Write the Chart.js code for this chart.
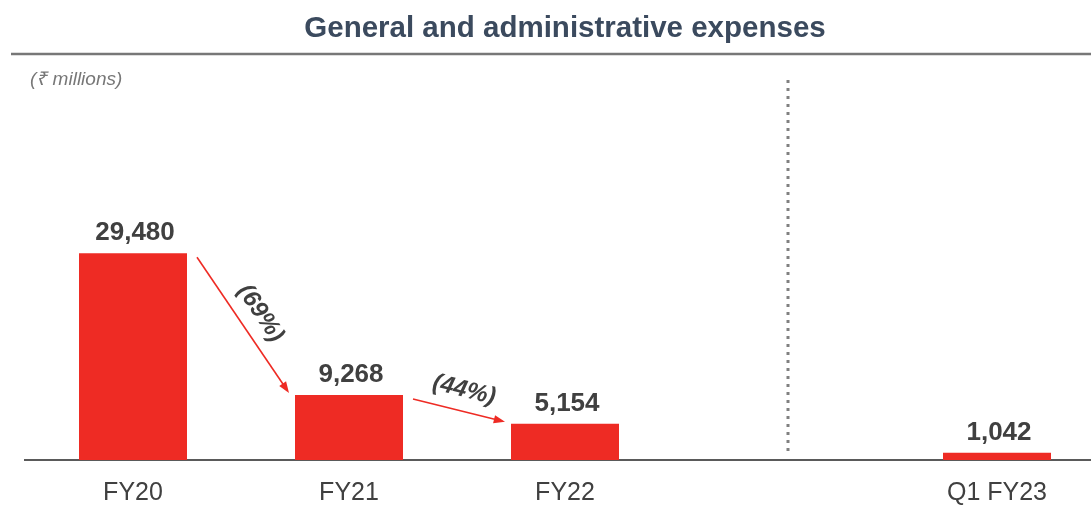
<!DOCTYPE html>
<html>
<head>
<meta charset="utf-8">
<script src="https://cdn.jsdelivr.net/npm/chart.js@4.4.0/dist/chart.umd.min.js"></script>
<style>
  html, body { margin: 0; padding: 0; background: #fff; overflow: hidden; }
  #wrap { position: relative; width: 1130px; height: 505px; }
</style>
</head>
<body>
<div id="wrap"><canvas id="gaChart" width="1130" height="505"></canvas></div>
<script>
// data
const categories = ['FY20', 'FY21', 'FY22', '', 'Q1 FY23'];
const expenses = [29480, 9268, 5154, null, 1042];
const changeLabels = ['(69%)', '(44%)'];
const changePairs = [[0, 1], [1, 2]];

const barColor = '#ee2b24';
const textColor = '#404040';
const fontFamily = '"Liberation Sans", Arial, sans-serif';

function drawArrow(ctx, x1, y1, x2, y2) {
  const ang = Math.atan2(y2 - y1, x2 - x1);
  const head = 12;
  ctx.strokeStyle = barColor;
  ctx.fillStyle = barColor;
  ctx.lineWidth = 1.6;
  ctx.beginPath();
  ctx.moveTo(x1, y1);
  ctx.lineTo(x2 - Math.cos(ang) * head * 0.8, y2 - Math.sin(ang) * head * 0.8);
  ctx.stroke();
  ctx.beginPath();
  ctx.moveTo(x2, y2);
  ctx.lineTo(x2 - head * Math.cos(ang - 0.35), y2 - head * Math.sin(ang - 0.35));
  ctx.lineTo(x2 - head * Math.cos(ang + 0.35), y2 - head * Math.sin(ang + 0.35));
  ctx.closePath();
  ctx.fill();
}

const extrasPlugin = {
  id: 'extras',
  afterDraw(chart) {
    const ctx = chart.ctx;
    const bars = chart.getDatasetMeta(0).data;
    const xs = chart.scales.x;
    ctx.save();

    // rule under the title
    ctx.strokeStyle = '#777777';
    ctx.lineWidth = 2.5;
    ctx.beginPath();
    ctx.moveTo(11, 54);
    ctx.lineTo(chart.width, 54);
    ctx.stroke();

    // unit note
    ctx.fillStyle = '#777777';
    ctx.font = 'italic 19px ' + fontFamily;
    ctx.textAlign = 'left';
    ctx.textBaseline = 'middle';
    ctx.fillText('(₹ millions)', 30, 80);

    // dotted separator between FY and quarter
    const sepX = xs.getPixelForValue(3) + 7;
    ctx.strokeStyle = '#808080';
    ctx.lineWidth = 3;
    ctx.setLineDash([3, 5]);
    ctx.beginPath();
    ctx.moveTo(sepX, 80);
    ctx.lineTo(sepX, 453);
    ctx.stroke();
    ctx.setLineDash([]);

    // value labels
    ctx.fillStyle = textColor;
    ctx.font = 'bold 26px ' + fontFamily;
    ctx.textAlign = 'center';
    ctx.textBaseline = 'alphabetic';
    bars.forEach((b, i) => {
      if (expenses[i] == null) return;
      ctx.fillText(expenses[i].toLocaleString('en-US'), b.x + 2, b.y - 13);
    });

    // change arrows
    changePairs.forEach((p, k) => {
      const a = bars[p[0]], b = bars[p[1]];
      const x1 = a.x + a.width / 2 + 10, y1 = a.y + 4;
      const x2 = b.x - b.width / 2 - 6, y2 = b.y - 2;
      drawArrow(ctx, x1, y1, x2, y2);
      const len = Math.hypot(x2 - x1, y2 - y1);
      const nx = (y2 - y1) / len, ny = -(x2 - x1) / len;
      const mx = (x1 + x2) / 2 + nx * 21, my = (y1 + y2) / 2 + ny * 21;
      ctx.save();
      ctx.translate(mx, my);
      ctx.rotate(Math.atan2(y2 - y1, x2 - x1));
      ctx.fillStyle = textColor;
      ctx.font = 'italic bold 24px ' + fontFamily;
      ctx.textAlign = 'center';
      ctx.textBaseline = 'middle';
      ctx.fillText(changeLabels[k], 0, 0);
      ctx.restore();
    });

    ctx.restore();
  }
};

new Chart(document.getElementById('gaChart').getContext('2d'), {
  type: 'bar',
  data: {
    labels: categories,
    datasets: [{
      data: expenses,
      backgroundColor: barColor,
      categoryPercentage: 1,
      barPercentage: 0.5
    }]
  },
  options: {
    responsive: false,
    animation: false,
    layout: { padding: { left: 25, right: 25, top: 0, bottom: 0 } },
    plugins: {
      legend: { display: false },
      tooltip: { enabled: false },
      title: {
        display: true,
        text: 'General and administrative expenses',
        color: '#3b4a5e',
        font: { family: fontFamily, size: 29.5, weight: 'bold' },
        padding: { top: 11, bottom: 63 }
      }
    },
    scales: {
      y: { display: false, min: 0, max: 50000 },
      x: {
        grid: { display: false, drawTicks: false },
        border: { display: true, color: '#5a5a5a', width: 2 },
        ticks: {
          color: textColor,
          padding: 18,
          font: { family: fontFamily, size: 25 }
        },
        afterFit(scale) { scale.height = 45; }
      }
    }
  },
  plugins: [extrasPlugin]
});
</script>
</body>
</html>
